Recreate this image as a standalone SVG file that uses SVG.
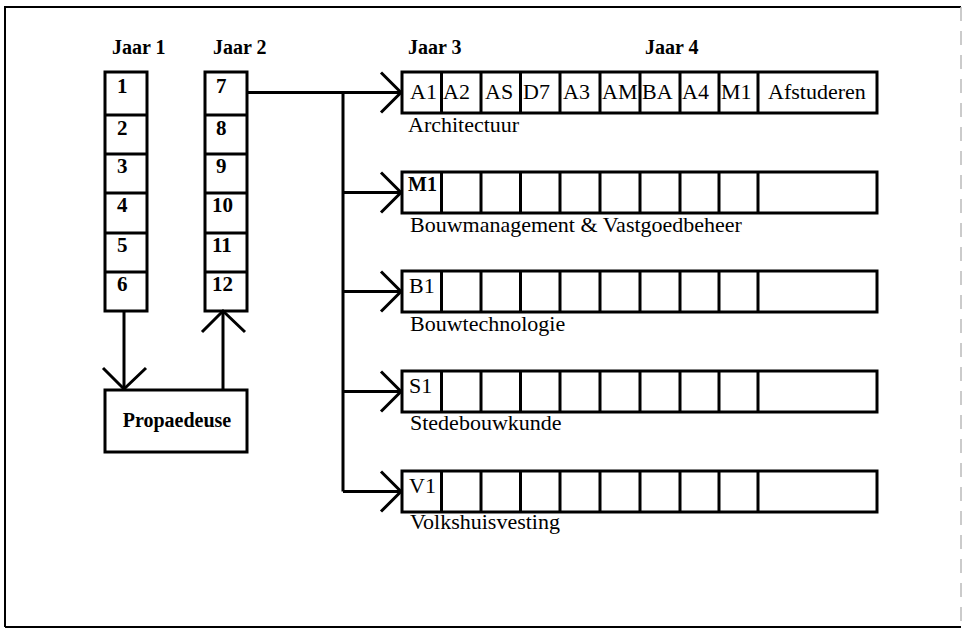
<svg xmlns="http://www.w3.org/2000/svg" width="966" height="631" viewBox="0 0 966 631">
<style>
.box{fill:#fff;stroke:#000;stroke-width:3}
.div{fill:none;stroke:#000;stroke-width:3}
.conn{fill:none;stroke:#000;stroke-width:3}
.t{font-family:"Liberation Serif","Times New Roman",serif;fill:#000}
.hdr{font-size:20px;font-weight:bold}
.num{font-size:21px;font-weight:bold}
.cell{font-size:22px}
.lbl{font-size:22px}
.pro{font-size:20px;font-weight:bold}
</style>
<rect width="966" height="631" fill="#fff"/>
<g id="frame">
<path d="M5,627 L5,7 L961,7" fill="none" stroke="#000" stroke-width="2"/>
<path d="M5,627 L961,627" fill="none" stroke="#000" stroke-width="2"/>
<path d="M961,7 L961,627" fill="none" stroke="#bbb" stroke-width="1.5" stroke-dasharray="14 10"/>
</g>
<g id="headers" class="t hdr">
<text x="112" y="54">Jaar 1</text>
<text x="213" y="54">Jaar 2</text>
<text x="408" y="54">Jaar 3</text>
<text x="645" y="54">Jaar 4</text>
</g>
<g id="jaar1">
<rect class="box" x="105" y="72" width="42" height="239"/>
<path class="div" d="M105,115H147M105,154H147M105,193H147M105,233H147M105,272H147"/>
<g class="t num">
<text x="117" y="93">1</text>
<text x="117" y="135">2</text>
<text x="117" y="173">3</text>
<text x="117" y="212">4</text>
<text x="117" y="252">5</text>
<text x="117" y="291">6</text>
</g>
</g>
<g id="jaar2">
<rect class="box" x="205" y="72" width="42" height="239"/>
<path class="div" d="M205,115H247M205,154H247M205,193H247M205,233H247M205,272H247"/>
<g class="t num">
<text x="216" y="93">7</text>
<text x="216" y="135">8</text>
<text x="216" y="173">9</text>
<text x="212" y="212">10</text>
<text x="212" y="252">11</text>
<text x="212" y="291">12</text>
</g>
</g>
<g id="propaedeuse">
<rect class="box" x="105" y="390" width="142" height="62"/>
<text class="t pro" x="177" y="427" text-anchor="middle">Propaedeuse</text>
</g>
<g id="architectuur">
<rect class="box" x="402" y="72" width="475" height="41"/>
<path class="div" d="M441.5,72V113M481,72V113M520.5,72V113M560,72V113M600,72V113M640,72V113M680,72V113M719,72V113M758,72V113"/>
<g class="t cell">
<text x="410" y="99">A1</text>
<text x="443" y="99">A2</text>
<text x="485" y="99">AS</text>
<text x="523" y="99">D7</text>
<text x="563" y="99">A3</text>
<text x="602" y="99">AM</text>
<text x="642" y="99">BA</text>
<text x="682" y="99">A4</text>
<text x="721" y="99">M1</text>
<text x="768" y="99">Afstuderen</text>
</g>
<text class="t lbl" x="408" y="132">Architectuur</text>
</g>
<g id="bouwmanagement">
<rect class="box" x="402" y="172" width="475" height="41"/>
<path class="div" d="M441.5,172V213M481,172V213M520.5,172V213M560,172V213M600,172V213M640,172V213M680,172V213M719,172V213M758,172V213"/>
<text class="t" x="408" y="191" font-size="20" font-weight="bold">M1</text>
<text class="t lbl" x="410" y="232">Bouwmanagement &amp; Vastgoedbeheer</text>
</g>
<g id="bouwtechnologie">
<rect class="box" x="402" y="271" width="475" height="41"/>
<path class="div" d="M441.5,271V312M481,271V312M520.5,271V312M560,271V312M600,271V312M640,271V312M680,271V312M719,271V312M758,271V312"/>
<text class="t cell" x="409" y="293">B1</text>
<text class="t lbl" x="410" y="331">Bouwtechnologie</text>
</g>
<g id="stedebouwkunde">
<rect class="box" x="402" y="371" width="475" height="41"/>
<path class="div" d="M441.5,371V412M481,371V412M520.5,371V412M560,371V412M600,371V412M640,371V412M680,371V412M719,371V412M758,371V412"/>
<text class="t cell" x="409" y="393">S1</text>
<text class="t lbl" x="410" y="430">Stedebouwkunde</text>
</g>
<g id="volkshuisvesting">
<rect class="box" x="402" y="471" width="475" height="41"/>
<path class="div" d="M441.5,471V512M481,471V512M520.5,471V512M560,471V512M600,471V512M640,471V512M680,471V512M719,471V512M758,471V512"/>
<text class="t cell" x="409" y="493">V1</text>
<text class="t lbl" x="410" y="529">Volkshuisvesting</text>
</g>
<g id="connectors" class="conn">
<path d="M124,311V388"/>
<path d="M103,368L124,389L146,368"/>
<path d="M223,390V313"/>
<path d="M202,332L223,311L245,332"/>
<path d="M247,92.5H400"/>
<path d="M343,92.5V491.5"/>
<path d="M343,192.5H400M343,291.5H400M343,391.5H400M343,491.5H400"/>
<path d="M381,72.5L401,92.5L381,112.5"/>
<path d="M381,172.5L401,192.5L381,212.5"/>
<path d="M381,271.5L401,291.5L381,311.5"/>
<path d="M381,371.5L401,391.5L381,411.5"/>
<path d="M381,471.5L401,491.5L381,511.5"/>
</g>
</svg>
